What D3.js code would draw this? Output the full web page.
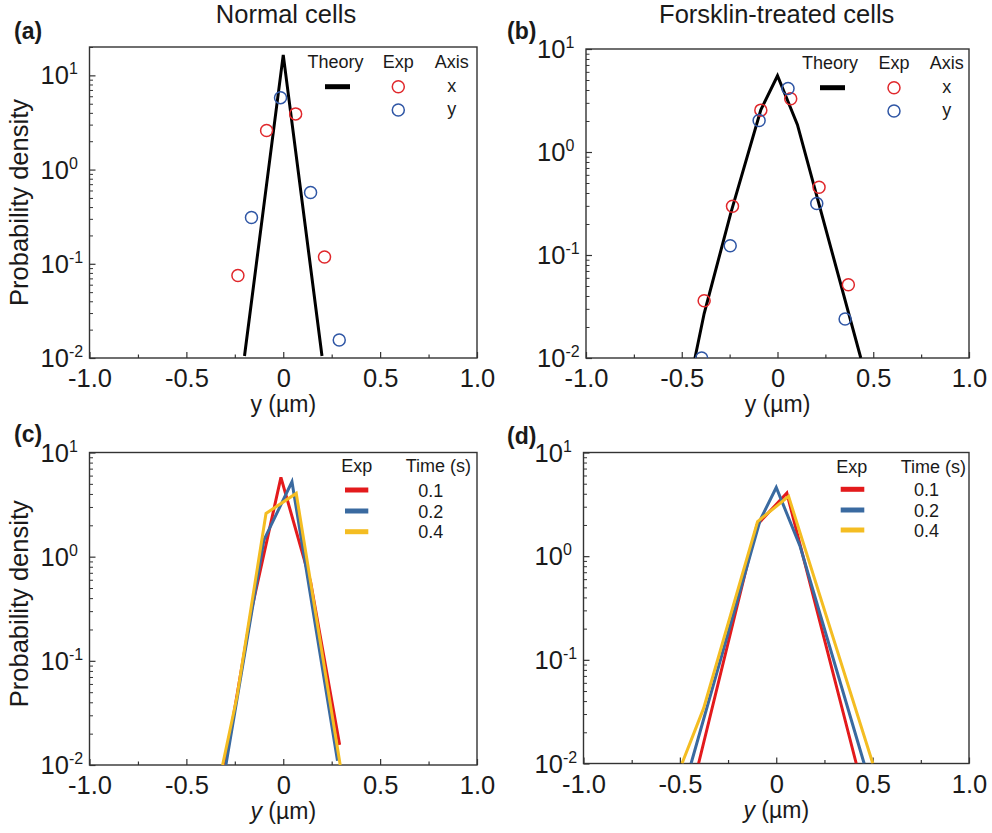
<!DOCTYPE html>
<html><head><meta charset="utf-8">
<script src="https://cdn.jsdelivr.net/npm/d3@7"></script>
<style>
body{margin:0;background:#fff;}
svg text{font-family:Arial,"Liberation Sans",Helvetica,sans-serif;fill:#1a1a1a;}
</style></head><body>
<svg id="chart" width="992" height="833"></svg>
<script>
// ---------- shared labels ----------
const xTickValues = [-1.0, -0.5, 0, 0.5, 1.0];
const xTickLabels = ["-1.0", "-0.5", "0", "0.5", "1.0"];
const xMinorTickValues = [-0.75, -0.25, 0.25, 0.75];
const yDecadeExponents = [-2, -1, 0, 1];
const panelLetters = ["(a)", "(b)", "(c)", "(d)"];
const columnTitles = ["Normal cells", "Forsklin-treated cells"];
const yAxisTitle = "Probability density";
const axisLegendNames = ["x", "y"];
const timeLabels = ["0.1", "0.2", "0.4"];

// ---------- (a) Normal cells: theory + experiment ----------
const aTheoryX = [-0.2, 0, 0.2];
const aTheoryY = [0.0105, 16.5, 0.0105];
const aExpXaxisX = [-0.234, -0.086, 0.064, 0.213];
const aExpXaxisY = [0.075, 2.6, 3.9, 0.118];
const aExpYaxisX = [-0.164, -0.014, 0.141, 0.289];
const aExpYaxisY = [0.31, 5.8, 0.57, 0.0155];

// ---------- (b) Forsklin-treated: theory + experiment ----------
const bTheoryX = [-0.431, -0.383, -0.244, -0.087, 0, 0.104, 0.435];
const bTheoryY = [0.01, 0.027, 0.255, 2.57, 5.5, 1.84, 0.01];
const bExpXaxisX = [-0.383, -0.235, -0.087, 0.069, 0.217, 0.370];
const bExpXaxisY = [0.036, 0.297, 2.55, 3.29, 0.455, 0.0515];
const bExpYaxisX = [-0.396, -0.247, -0.096, 0.055, 0.205, 0.353];
const bExpYaxisY = [0.0100, 0.123, 2.02, 4.14, 0.316, 0.0239];

// ---------- (c) Normal cells, time series ----------
const cT01X = [-0.30, -0.164, -0.012, 0.141, 0.291];
const cT01Y = [0.01, 0.306, 5.77, 0.574, 0.0156];
const cT02X = [-0.296, -0.10, 0.045, 0.28];
const cT02Y = [0.01, 1.44, 5.24, 0.011];
const cT04X = [-0.313, -0.239, -0.089, 0.067, 0.294];
const cT04Y = [0.01, 0.045, 2.6, 4.05, 0.01];

// ---------- (d) Forsklin-treated, time series ----------
const dT01X = [-0.403, -0.10, 0.055, 0.415];
const dT01Y = [0.01, 2.0, 4.06, 0.01];
const dT02X = [-0.442, -0.083, 0, 0.124, 0.456];
const dT02Y = [0.01, 2.24, 4.6, 1.24, 0.01];
const dT04X = [-0.489, -0.377, -0.097, 0.064, 0.501];
const dT04Y = [0.01, 0.034, 2.16, 3.77, 0.01];

// ---------- styling ----------
const FONT = 'Arial, "Liberation Sans", Helvetica, sans-serif';
const AXIS_COLOR = "#333";
const circleRed = "#e0282c", circleBlue = "#2f56a5";
const lineColors = ["#e31a1c", "#3a6aa0", "#f4bd22"];

const zip = (xs, ys) => xs.map((v, i) => [v, ys[i]]);

const panels = [
  {id: "a", x0: 89.5, x1: 477, y0: 47, y1: 358, yMax: 20, col: 0, row: 0, ylabel: true, italic: false,
   theory: zip(aTheoryX, aTheoryY), expX: zip(aExpXaxisX, aExpXaxisY), expY: zip(aExpYaxisX, aExpYaxisY),
   letter: [14, 39], legend: {head: 68, theory: 335.5, exp: 398.3, axis: 451.7, line: [325, 350], r1: 86.7, r2: 110}},
  {id: "b", x0: 586, x1: 969, y0: 49, y1: 358, yMax: 10, col: 1, row: 0, ylabel: false, italic: false,
   theory: zip(bTheoryX, bTheoryY), expX: zip(bExpXaxisX, bExpXaxisY), expY: zip(bExpYaxisX, bExpYaxisY),
   letter: [507, 39], legend: {head: 69, theory: 830, exp: 894, axis: 946.7, line: [820, 845], r1: 87.7, r2: 111}},
  {id: "c", x0: 89.5, x1: 477, y0: 452.5, y1: 765, yMax: 10, col: 0, row: 1, ylabel: true, italic: true,
   series: [zip(cT01X, cT01Y), zip(cT02X, cT02Y), zip(cT04X, cT04Y)],
   letter: [14, 442], tlegend: {head: 472, exp: 356.7, time: 438.3, line: [345, 368.3], rows: [490, 511, 531.7], lab: 430.7}},
  {id: "d", x0: 583.5, x1: 969, y0: 452.5, y1: 763.5, yMax: 10, col: 1, row: 1, ylabel: false, italic: true,
   series: [zip(dT01X, dT01Y), zip(dT02X, dT02Y), zip(dT04X, dT04Y)],
   letter: [507, 444], tlegend: {head: 473, exp: 851.7, time: 933.3, line: [840.7, 864.3], rows: [489.3, 510, 530], lab: 926.5}}
];

const svg = d3.select("#chart");

function txt(g, x, y, s, size, anchor, extra) {
  const t = g.append("text").attr("x", x).attr("y", y).attr("font-size", size)
    .attr("text-anchor", anchor || "middle").attr("font-family", FONT).text(s);
  if (extra) extra(t);
  return t;
}

panels.forEach((p, pi) => {
  const g = svg.append("g");
  const x = d3.scaleLinear().domain([-1, 1]).range([p.x0, p.x1]);
  const y = d3.scaleLog().domain([0.01, p.yMax]).range([p.y1, p.y0]);

  const clipId = "clip-" + p.id;
  svg.append("clipPath").attr("id", clipId).append("rect")
    .attr("x", p.x0).attr("y", p.y0).attr("width", p.x1 - p.x0).attr("height", p.y1 - p.y0);

  // x axis (ticks inward)
  const gx = g.append("g").attr("transform", `translate(0,${p.y1})`).style("color", AXIS_COLOR)
    .call(d3.axisBottom(x).tickValues(xTickValues).tickFormat((d, i) => xTickLabels[i])
      .tickSizeInner(-6).tickSizeOuter(0).tickPadding(11));
  gx.attr("font-size", null).attr("font-family", null);
  gx.select(".domain").remove();
  gx.selectAll("line").attr("stroke-width", 1.2);
  gx.selectAll("text").attr("font-size", 25.5).attr("font-family", FONT).style("fill", "#1a1a1a");

  const gxm = g.append("g").attr("transform", `translate(0,${p.y1})`).style("color", AXIS_COLOR)
    .call(d3.axisBottom(x).tickValues(xMinorTickValues).tickFormat("").tickSizeInner(-3.5).tickSizeOuter(0));
  gxm.select(".domain").remove();
  gxm.selectAll("line").attr("stroke-width", 1.2);

  // y axis (log, ticks inward)
  const majors = yDecadeExponents.map(e => Math.pow(10, e)).filter(v => v <= p.yMax * 1.0001);
  const minors = y.ticks().filter(v => !majors.some(m => Math.abs(m - v) / m < 1e-6));
  const gy = g.append("g").attr("transform", `translate(${p.x0},0)`).style("color", AXIS_COLOR)
    .call(d3.axisLeft(y).tickValues(majors).tickFormat("").tickSizeInner(-6).tickSizeOuter(0));
  gy.select(".domain").remove();
  gy.selectAll("line").attr("stroke-width", 1.2);
  const gym = g.append("g").attr("transform", `translate(${p.x0},0)`).style("color", AXIS_COLOR)
    .call(d3.axisLeft(y).tickValues(minors).tickFormat("").tickSizeInner(-3.5).tickSizeOuter(0));
  gym.select(".domain").remove();
  gym.selectAll("line").attr("stroke-width", 1);

  // y tick labels 10^n
  majors.forEach(v => {
    const e = Math.round(Math.log10(v));
    const t = g.append("text").attr("x", p.x0 - 49).attr("y", y(v) + 9)
      .attr("font-size", 25.5).attr("font-family", FONT).attr("text-anchor", "start");
    t.append("tspan").text("10");
    t.append("tspan").attr("dy", -10).attr("font-size", 16).text(String(e));
  });

  // frame
  g.append("rect").attr("x", p.x0).attr("y", p.y0).attr("width", p.x1 - p.x0).attr("height", p.y1 - p.y0)
    .attr("fill", "none").attr("stroke", AXIS_COLOR).attr("stroke-width", 1.4);

  // x axis title
  const xl = g.append("text").attr("x", (p.x0 + p.x1) / 2).attr("y", p.y1 + 54)
    .attr("font-size", 23).attr("font-family", FONT).attr("text-anchor", "middle");
  xl.append("tspan").attr("font-style", p.italic ? "italic" : "normal").text("y");
  xl.append("tspan").text(" (\u00b5m)");

  // y axis title
  if (p.ylabel) {
    const cy = (p.y0 + p.y1) / 2 - (p.row ? 5 : 0);
    g.append("text").attr("transform", `translate(28,${cy}) rotate(-90)`)
      .attr("font-size", 25.5).attr("font-family", FONT).attr("text-anchor", "middle").text(yAxisTitle);
  }

  // panel letter
  txt(g, p.letter[0], p.letter[1], panelLetters[pi], 23, "start", t => t.attr("font-weight", "bold"));
  if (p.row === 0) txt(g, p.col === 0 ? 286 : 776.7, 23, columnTitles[p.col], 25.5, "middle");

  const line = d3.line().x(d => x(d[0])).y(d => y(d[1]));
  const plot = g.append("g").attr("clip-path", `url(#${clipId})`);

  if (p.theory) {
    plot.append("path").datum(p.theory).attr("d", line).attr("fill", "none")
      .attr("stroke", "#000").attr("stroke-width", 3).attr("stroke-linejoin", "miter");
    [[p.expX, circleRed], [p.expY, circleBlue]].forEach(([pts, c]) => {
      plot.selectAll(null).data(pts).enter().append("circle")
        .attr("cx", d => x(d[0])).attr("cy", d => y(d[1])).attr("r", 6)
        .attr("fill", "none").attr("stroke", c).attr("stroke-width", 1.5);
    });
    const L = p.legend;
    txt(g, L.theory, L.head, "Theory", 18);
    txt(g, L.exp, L.head, "Exp", 18);
    txt(g, L.axis, L.head, "Axis", 18);
    g.append("line").attr("x1", L.line[0]).attr("x2", L.line[1]).attr("y1", L.r1).attr("y2", L.r1)
      .attr("stroke", "#000").attr("stroke-width", 5);
    g.append("circle").attr("cx", L.exp).attr("cy", L.r1).attr("r", 6).attr("fill", "none")
      .attr("stroke", circleRed).attr("stroke-width", 1.5);
    g.append("circle").attr("cx", L.exp).attr("cy", L.r2).attr("r", 6).attr("fill", "none")
      .attr("stroke", circleBlue).attr("stroke-width", 1.5);
    txt(g, L.axis, L.r1 + 5, axisLegendNames[0], 18);
    txt(g, L.axis, L.r2 + 5, axisLegendNames[1], 18);
  }

  if (p.series) {
    p.series.forEach((s, i) => {
      plot.append("path").datum(s).attr("d", line).attr("fill", "none")
        .attr("stroke", lineColors[i]).attr("stroke-width", 3).attr("stroke-linejoin", "miter");
    });
    const L = p.tlegend;
    txt(g, L.exp, L.head, "Exp", 18);
    txt(g, L.time, L.head, "Time (s)", 18);
    L.rows.forEach((ry, i) => {
      g.append("line").attr("x1", L.line[0]).attr("x2", L.line[1]).attr("y1", ry).attr("y2", ry)
        .attr("stroke", lineColors[i]).attr("stroke-width", 5);
      txt(g, L.lab, ry + 6.5, timeLabels[i], 18);
    });
  }
});
</script>
</body></html>
